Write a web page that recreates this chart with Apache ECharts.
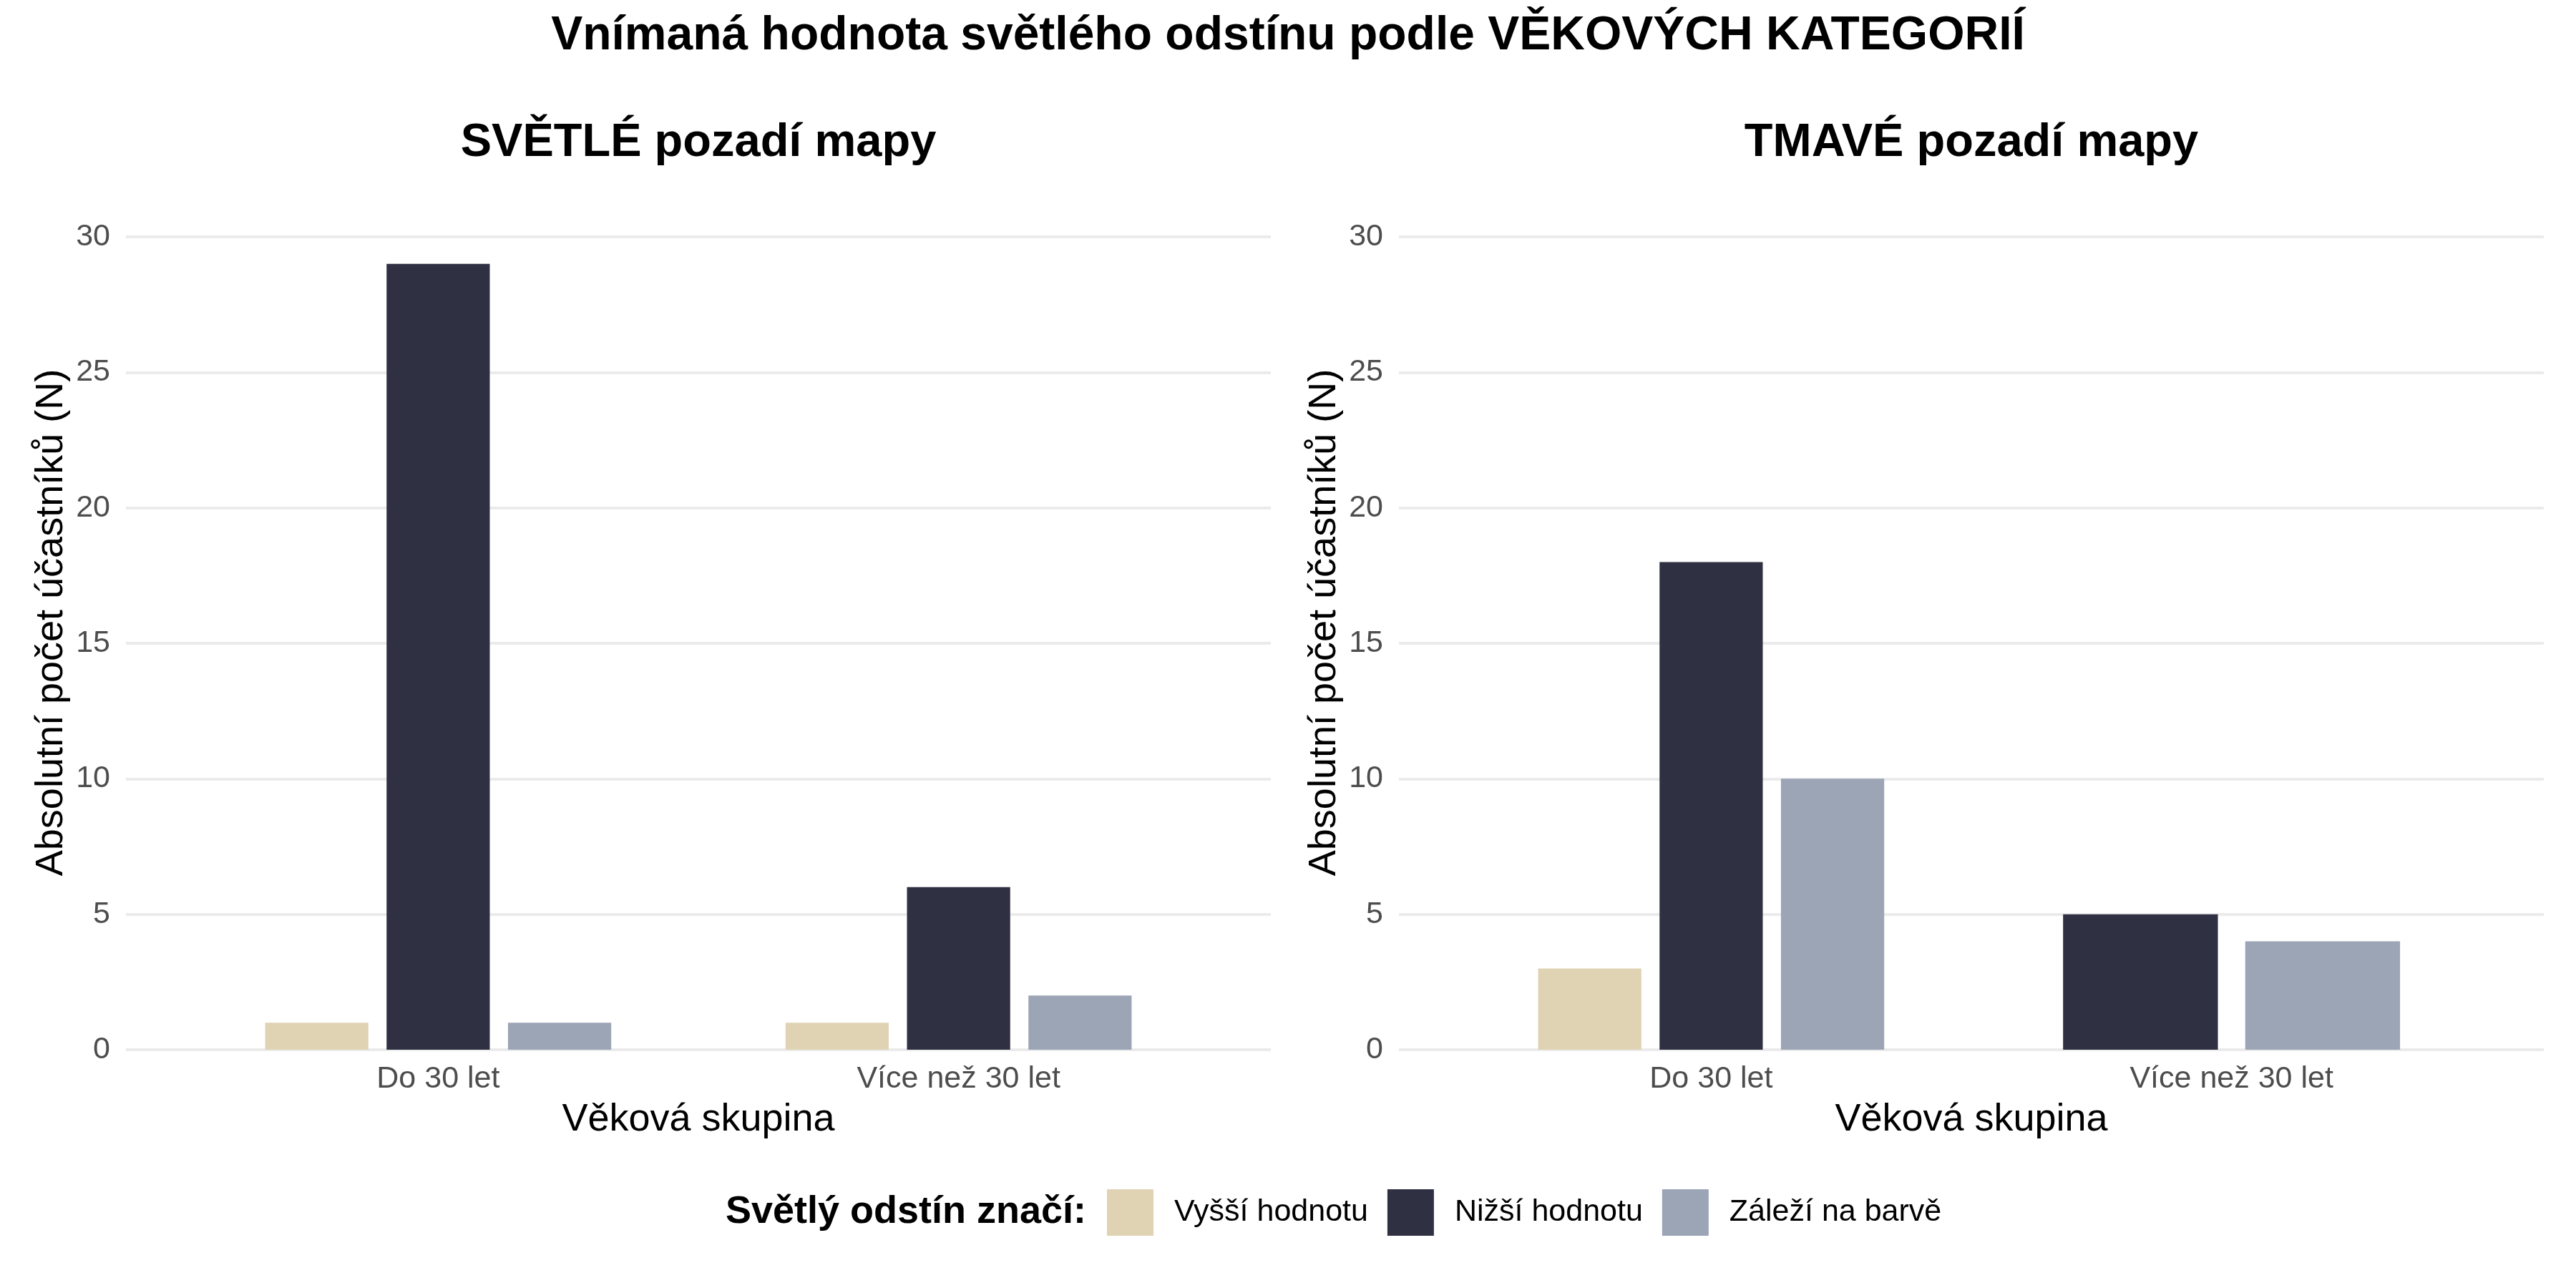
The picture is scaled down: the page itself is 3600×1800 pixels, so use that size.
<!DOCTYPE html>
<html lang="cs">
<head>
<meta charset="utf-8">
<title>Vnímaná hodnota světlého odstínu podle věkových kategorií</title>
<script src="https://cdn.jsdelivr.net/npm/echarts@6/dist/echarts.min.js"></script>
<style>
  html, body { margin: 0; padding: 0; background: #fff; }
  #chart { width: 3600px; height: 1800px; }
</style>
</head>
<body>
<div id="chart"></div>
<script>
// kategorie
const vekoveSkupiny = ['Do 30 let', 'Více než 30 let']
const odstiny = ['Vyšší hodnotu', 'Nižší hodnotu', 'Záleží na barvě']
const barvy = ['#E0D3B3', '#2F3142', '#9CA5B5']

// SVĚTLÉ pozadí mapy
const svetleVyssi = [1, 1]
const svetleNizsi = [29, 6]
const svetleZalezi = [1, 2]

// TMAVÉ pozadí mapy (u starších nikdo neodpověděl "Vyšší hodnotu")
const tmaveVyssi = [3, null]
const tmaveNizsi = [18, 5]
const tmaveZalezi = [10, 4]

const yTicks = [0, 5, 10, 15, 20, 25, 30]

const FONT = '"Liberation Sans", Arial, sans-serif'

const panely = [
  { nazev: 'SVĚTLÉ pozadí mapy', data: [svetleVyssi, svetleNizsi, svetleZalezi], left: 176 },
  { nazev: 'TMAVÉ pozadí mapy', data: [tmaveVyssi, tmaveNizsi, tmaveZalezi], left: 1955 }
]
const panelWidth = 1600
const panelTop = 331
const panelHeight = 1136

// sloupce vedle sebe jako dodge2 v ggplotu: chybějící úroveň se nepočítá
const makeRender = (panelData, level) => (params, api) => {
  const x = api.value(0)
  const v = api.value(1)
  const ci = x - 1
  const present = panelData
    .map((arr, i) => (arr[ci] != null ? i : -1))
    .filter(i => i >= 0)
  const n = present.length
  const k = present.indexOf(level)
  const band = api.size([1, 0])[0]
  const slot = band * 0.7 / n
  const w = slot * 0.85
  const base = api.coord([x, 0])
  const top = api.coord([x, v])
  const cx = base[0] + (k - (n - 1) / 2) * slot
  return {
    type: 'rect',
    shape: { x: cx - w / 2, y: top[1], width: w, height: base[1] - top[1] },
    style: { fill: api.visual('color') }
  }
}

const grids = []
const xAxes = []
const yAxes = []
const series = []
const titles = [{
  text: 'Vnímaná hodnota světlého odstínu podle VĚKOVÝCH KATEGORIÍ',
  left: 1800,
  top: 18,
  textAlign: 'center',
  padding: 0,
  textStyle: { fontFamily: FONT, fontSize: 66, fontWeight: 'bold', color: '#000' }
}]
const graphics = []

panely.forEach((p, pi) => {
  grids.push({ left: p.left, top: panelTop, width: panelWidth, height: panelHeight })
  xAxes.push({
    type: 'value',
    gridIndex: pi,
    min: 0.4,
    max: 2.6,
    axisLine: { show: false },
    axisTick: { show: false },
    splitLine: { show: false },
    axisLabel: {
      customValues: [1, 2],
      formatter: v => vekoveSkupiny[Math.round(v) - 1] || '',
      fontFamily: FONT,
      fontSize: 43,
      color: '#4D4D4D',
      margin: 20
    },
    name: 'Věková skupina',
    nameLocation: 'middle',
    nameGap: 71,
    nameTextStyle: { fontFamily: FONT, fontSize: 54, color: '#000' }
  })
  yAxes.push({
    type: 'value',
    gridIndex: pi,
    min: yTicks[0],
    max: yTicks[yTicks.length - 1],
    interval: yTicks[1] - yTicks[0],
    axisLine: { show: false },
    axisTick: { show: false },
    axisLabel: { fontFamily: FONT, fontSize: 43, color: '#4D4D4D', margin: 22 },
    splitLine: { lineStyle: { color: '#EBEBEB', width: 4 } }
  })
  titles.push({
    text: p.nazev,
    left: p.left + panelWidth / 2,
    top: 168,
    textAlign: 'center',
    padding: 0,
    textStyle: { fontFamily: FONT, fontSize: 65, fontWeight: 'bold', color: '#000' }
  })
  graphics.push({
    type: 'text',
    x: p.left - 104,
    y: 870,
    rotation: Math.PI / 2,
    style: {
      text: 'Absolutní počet účastníků (N)',
      font: '54px ' + FONT,
      fill: '#000',
      align: 'center',
      verticalAlign: 'middle',
      textAlign: 'center',
      textVerticalAlign: 'middle'
    }
  })
  odstiny.forEach((name, li) => {
    const values = p.data[li]
    series.push({
      name: name,
      type: 'custom',
      xAxisIndex: pi,
      yAxisIndex: pi,
      itemStyle: { color: barvy[li] },
      renderItem: makeRender(p.data, li),
      data: values
        .map((v, ci) => (v == null ? null : [ci + 1, v]))
        .filter(d => d !== null)
    })
  })
})

// nadpis legendy
titles.push({
  text: 'Světlý odstín značí:',
  left: 1518,
  top: 1667,
  textAlign: 'right',
  padding: 0,
  textStyle: { fontFamily: FONT, fontSize: 54, fontWeight: 'bold', color: '#000' }
})

const chart = echarts.init(document.getElementById('chart'))
chart.setOption({
  backgroundColor: '#fff',
  animation: false,
  title: titles,
  grid: grids,
  xAxis: xAxes,
  yAxis: yAxes,
  series: series,
  legend: {
    data: odstiny,
    left: 1547,
    top: 1662,
    padding: 0,
    icon: 'rect',
    itemWidth: 65,
    itemHeight: 65,
    itemGap: 27,
    textStyle: { fontFamily: FONT, fontSize: 43, color: '#000', padding: [0, 0, 0, 24] }
  },
  graphic: graphics
})
</script>
</body>
</html>
